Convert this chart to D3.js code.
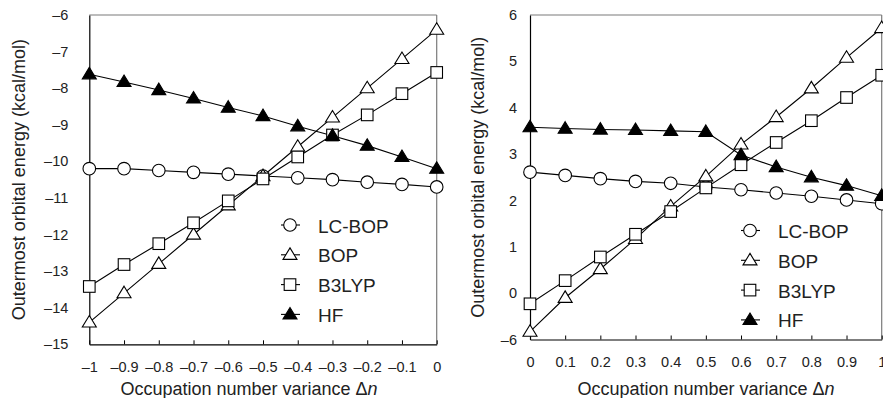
<!DOCTYPE html>
<html>
<head>
<meta charset="utf-8">
<script src="https://cdn.jsdelivr.net/npm/d3@7"></script>
<style>
  html, body { margin: 0; padding: 0; background: #fff; }
  svg { display: block; font-family: "Liberation Sans", Arial, Helvetica, sans-serif; }
</style>
</head>
<body>
<svg id="chart" width="883" height="398"></svg>
<script>
// Occupation number variance (x) for each panel
const xLeft = [-1, -0.9, -0.8, -0.7, -0.6, -0.5, -0.4, -0.3, -0.2, -0.1, 0];
const xRight = [0, 0.1, 0.2, 0.3, 0.4, 0.5, 0.6, 0.7, 0.8, 0.9, 1];

// Outermost orbital energies (kcal/mol), left panel
const lcbopLeft = [-10.2, -10.2, -10.25, -10.3, -10.35, -10.4, -10.45, -10.5, -10.57, -10.63, -10.7];
const bopLeft   = [-14.4, -13.6, -12.8, -12.0, -11.2, -10.4, -9.6, -8.8, -8.0, -7.2, -6.4];
const b3lypLeft = [-13.42, -12.82, -12.25, -11.68, -11.08, -10.48, -9.88, -9.28, -8.73, -8.15, -7.57];
const hfLeft    = [-7.62, -7.83, -8.05, -8.28, -8.53, -8.76, -9.04, -9.3, -9.57, -9.88, -10.2];

// Outermost orbital energies (kcal/mol), right panel
const lcbopRight = [2.61, 2.54, 2.47, 2.41, 2.37, 2.29, 2.23, 2.16, 2.09, 2.01, 1.93];
const bopRight   = [-0.83, -0.1, 0.52, 1.17, 1.87, 2.52, 3.21, 3.8, 4.42, 5.08, 5.72];
const b3lypRight = [-0.23, 0.27, 0.78, 1.27, 1.76, 2.27, 2.77, 3.25, 3.72, 4.22, 4.7];
const hfRight    = [3.58, 3.55, 3.53, 3.52, 3.5, 3.48, 2.98, 2.72, 2.5, 2.32, 2.1];

// Axis tick values and labels
const xTicksLeft = [-1, -0.9, -0.8, -0.7, -0.6, -0.5, -0.4, -0.3, -0.2, -0.1, 0];
const xTickLabelsLeft = ["–1", "–0.9", "–0.8", "–0.7", "–0.6", "–0.5", "–0.4", "–0.3", "–0.2", "–0.1", "0"];
const yTicksLeft = [-15, -14, -13, -12, -11, -10, -9, -8, -7, -6];
const yTickLabelsLeft = ["–15", "–14", "–13", "–12", "–11", "–10", "–9", "–8", "–7", "–6"];

const xTicksRight = [0, 0.1, 0.2, 0.3, 0.4, 0.5, 0.6, 0.7, 0.8, 0.9, 1];
const xTickLabelsRight = ["0", "0.1", "0.2", "0.3", "0.4", "0.5", "0.6", "0.7", "0.8", "0.9", "1"];
const yTicksRight = [-1, 0, 1, 2, 3, 4, 5, 6];
const yTickLabelsRight = ["–6", "0", "1", "2", "3", "4", "5", "6"];

const seriesNames = ["LC-BOP", "BOP", "B3LYP", "HF"];
const seriesSymbols = ["circle", "triangle", "square", "filledTriangle"];

const svg = d3.select("#chart");

function drawMarker(g, kind, cx, cy) {
  if (kind === "circle") {
    g.append("circle").attr("cx", cx).attr("cy", cy).attr("r", 6.3)
      .attr("fill", "#fff").attr("stroke", "#000").attr("stroke-width", 1.1);
  } else if (kind === "square") {
    g.append("rect").attr("x", cx - 5.8).attr("y", cy - 5.8).attr("width", 11.6).attr("height", 11.6)
      .attr("fill", "#fff").attr("stroke", "#000").attr("stroke-width", 1.1);
  } else {
    const w = 7, h = 11.5;
    const pts = [[cx, cy - h * 0.6], [cx + w, cy + h * 0.4], [cx - w, cy + h * 0.4]];
    g.append("path").attr("d", "M" + pts.map(p => p.join(",")).join("L") + "Z")
      .attr("fill", kind === "filledTriangle" ? "#000" : "#fff")
      .attr("stroke", "#000").attr("stroke-width", 1.1).attr("stroke-linejoin", "miter");
  }
}

function panel(cfg) {
  const x = d3.scaleLinear().domain(cfg.xDomain).range([cfg.left, cfg.right]);
  const y = d3.scaleLinear().domain(cfg.yDomain).range([cfg.bottom, cfg.top]);
  const g = svg.append("g");

  // frame: top and right in grey
  g.append("line").attr("x1", cfg.left).attr("x2", cfg.right).attr("y1", cfg.top).attr("y2", cfg.top)
    .attr("stroke", "#7a7a7a").attr("stroke-width", 1.2);
  g.append("line").attr("x1", cfg.right).attr("x2", cfg.right).attr("y1", cfg.top).attr("y2", cfg.bottom)
    .attr("stroke", "#7a7a7a").attr("stroke-width", 1.2);

  // x axis with inward ticks
  const xAxis = d3.axisBottom(x).tickValues(cfg.xTicks).tickSizeInner(-4).tickSizeOuter(0)
    .tickPadding(17).tickFormat((d, i) => cfg.xLabels[i]);
  const gx = g.append("g").attr("transform", `translate(0,${cfg.bottom})`).call(xAxis);
  gx.select(".domain").attr("stroke", "#000").attr("stroke-width", 1.2);
  gx.selectAll(".tick line").attr("stroke", "#000").attr("stroke-width", 1);
  gx.selectAll(".tick text").attr("font-size", 14.5).attr("fill", "#222")
    .attr("font-family", "Liberation Sans, Arial, sans-serif");

  // y axis with labels only
  const yAxis = d3.axisLeft(y).tickValues(cfg.yTicks).tickSize(0).tickPadding(cfg.yPad)
    .tickFormat((d, i) => cfg.yLabels[i]);
  const gy = g.append("g").attr("transform", `translate(${cfg.left},0)`).call(yAxis);
  gy.select(".domain").attr("stroke", "#000").attr("stroke-width", 1.2);
  gy.selectAll(".tick text").attr("font-size", 14.5).attr("fill", "#222")
    .attr("font-family", "Liberation Sans, Arial, sans-serif");

  // axis titles
  g.append("text").attr("x", cfg.xTitleX).attr("y", 395).attr("text-anchor", "middle")
    .attr("font-size", 18).attr("fill", "#222")
    .call(t => {
      t.append("tspan").text("Occupation number variance Δ");
      t.append("tspan").attr("font-style", "italic").text("n");
    });
  g.append("text").attr("transform", `translate(${cfg.yTitleX},${(cfg.top + cfg.bottom) / 2}) rotate(-90)`)
    .attr("text-anchor", "middle").attr("dominant-baseline", "central")
    .attr("font-size", 18).attr("fill", "#222")
    .text("Outermost orbital energy (kcal/mol)");

  // series
  const line = d3.line().x(d => x(d[0])).y(d => y(d[1]));
  cfg.series.forEach((vals, si) => {
    const pts = cfg.xs.map((xv, i) => [xv, vals[i]]);
    g.append("path").datum(pts).attr("d", line).attr("fill", "none")
      .attr("stroke", "#000").attr("stroke-width", 1.1);
  });
  cfg.series.forEach((vals, si) => {
    const mg = g.append("g");
    cfg.xs.forEach((xv, i) => drawMarker(mg, seriesSymbols[si], x(xv), y(vals[i])));
  });

  // legend
  seriesNames.forEach((name, i) => {
    const ly = cfg.legendY + i * 29.8;
    g.append("line").attr("x1", cfg.legendX - 9).attr("x2", cfg.legendX + 10)
      .attr("y1", ly).attr("y2", ly).attr("stroke", "#000").attr("stroke-width", 1.1);
    drawMarker(g, seriesSymbols[i], cfg.legendX, ly);
    g.append("text").attr("x", cfg.legendX + 28).attr("y", ly + 7.5)
      .attr("font-size", 19).attr("fill", "#222").text(name);
  });
}

panel({
  xDomain: [-1, 0], yDomain: [-15, -6],
  left: 89.3, right: 436.7, top: 15, bottom: 344.3,
  xs: xLeft, series: [lcbopLeft, bopLeft, b3lypLeft, hfLeft],
  xTicks: xTicksLeft, xLabels: xTickLabelsLeft,
  yTicks: yTicksLeft, yLabels: yTickLabelsLeft, yPad: 21,
  xTitleX: 249, yTitleX: 19,
  legendX: 290, legendY: 225
});

panel({
  xDomain: [0, 1], yDomain: [-1, 6],
  left: 530, right: 881.7, top: 15, bottom: 339.5,
  xs: xRight, series: [lcbopRight, bopRight, b3lypRight, hfRight],
  xTicks: xTicksRight, xLabels: xTickLabelsRight,
  yTicks: yTicksRight, yLabels: yTickLabelsRight, yPad: 13,
  xTitleX: 706, yTitleX: 478,
  legendX: 750, legendY: 230.5
});
</script>
</body>
</html>
